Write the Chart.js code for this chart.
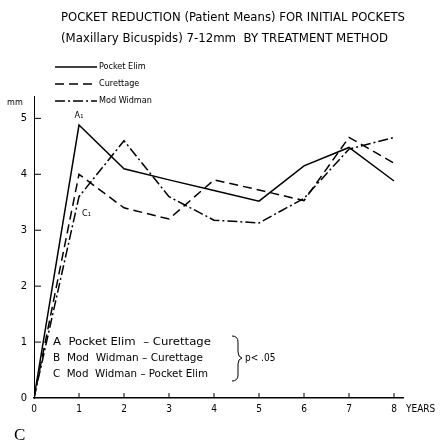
<!DOCTYPE html>
<html><head><meta charset="utf-8">
<script src="https://cdn.jsdelivr.net/npm/chart.js@4/dist/chart.umd.min.js"></script>
<style>html,body{margin:0;padding:0;background:#fff;}</style>
</head><body>
<canvas id="c" width="443" height="442"></canvas>
<script>
// ---- data ----
const years = [0, 1, 2, 3, 4, 5, 6, 7, 8];
const pocketElim = [0, 4.88, 4.1, 3.9, 3.71, 3.52, 4.15, 4.48, 3.88];
const curettage  = [0, 4.0, 3.4, 3.2, 3.9, 3.72, 3.53, 4.66, 4.2];
const modWidman  = [0, 3.6, 4.6, 3.6, 3.18, 3.13, 3.57, 4.45, 4.66];
const seriesNames = ['Pocket Elim', 'Curettage', 'Mod Widman'];
const xTicks = [0, 1, 2, 3, 4, 5, 6, 7, 8];
const yTicks = [0, 1, 2, 3, 4, 5];
const titleLines = ['POCKET REDUCTION (Patient Means) FOR INITIAL POCKETS', '(Maxillary Bicuspids) 7-12mm  BY TREATMENT METHOD'];
const statLines = ['A  Pocket Elim  \u2013 Curettage', 'B  Mod  Widman \u2013 Curettage', 'C  Mod  Widman \u2013 Pocket Elim'];

const FAM = '"Liberation Sans Narrow", "DejaVu Sans Condensed", "Liberation Sans", Arial, sans-serif';
const dashes = [[], [9, 5], [10, 3, 2, 3]];
const seriesData = [pocketElim, curettage, modWidman];

function fitText(ctx, text, x, y, width, font) {
  ctx.save();
  ctx.font = font;
  const w = ctx.measureText(text).width;
  ctx.translate(x, y);
  ctx.scale(width / w, 1);
  ctx.textAlign = 'left';
  ctx.fillText(text, 0, 0);
  ctx.restore();
}

const decor = {
  id: 'decor',
  afterDraw(chart) {
    const ctx = chart.ctx;
    const xs = chart.scales.x, ys = chart.scales.y;
    ctx.save();
    ctx.fillStyle = '#000';
    ctx.strokeStyle = '#000';
    ctx.textBaseline = 'middle';
    // title
    fitText(ctx, titleLines[0], 61, 18, 344, '12px ' + FAM);
    fitText(ctx, titleLines[1], 61, 39, 327, '12px ' + FAM);
    // legend
    const ly = [67, 84, 101];
    chart.data.datasets.forEach((ds, i) => {
      ctx.save();
      ctx.lineWidth = 1.4;
      ctx.setLineDash(ds.borderDash || []);
      ctx.beginPath();
      ctx.moveTo(55, ly[i]); ctx.lineTo(97, ly[i]);
      ctx.stroke();
      ctx.restore();
      ctx.font = '9px ' + FAM;
      ctx.textAlign = 'left';
      ctx.fillText(ds.label, 99, ly[i]);
    });
    // unit
    ctx.font = '9px ' + FAM;
    ctx.textAlign = 'center';
    ctx.fillText('mm', 15, 103);
    // inward ticks
    ctx.lineWidth = 1;
    ctx.setLineDash([]);
    yTicks.forEach(v => {
      const p = ys.getPixelForValue(v);
      if (v === 0) return;
      ctx.beginPath(); ctx.moveTo(xs.left, p); ctx.lineTo(xs.left + 7, p); ctx.stroke();
    });
    xTicks.forEach(v => {
      if (v === 0) return;
      const p = xs.getPixelForValue(v);
      ctx.beginPath(); ctx.moveTo(p, ys.bottom); ctx.lineTo(p, ys.bottom - 5); ctx.stroke();
    });
    // YEARS
    ctx.font = '10px ' + FAM;
    ctx.textAlign = 'left';
    ctx.fillText('YEARS', 406, 409);
    // significance markers
    ctx.font = '9px ' + FAM;
    ctx.textAlign = 'center';
    ctx.fillText('A\u2081', xs.getPixelForValue(1), ys.getPixelForValue(4.88) - 9);
    ctx.textAlign = 'left';
    ctx.fillText('C\u2081', xs.getPixelForValue(1) + 3, ys.getPixelForValue(3.3));
    // stats block
    const sy = [342, 358, 374];
    const sw = [158, 150, 155];
    statLines.forEach((t, i) => fitText(ctx, t, 53, sy[i], sw[i], '10px ' + FAM));
    // bracket
    ctx.lineWidth = 1;
    ctx.beginPath();
    ctx.moveTo(232, 336);
    ctx.quadraticCurveTo(238, 336, 238, 342);
    ctx.lineTo(238, 352);
    ctx.quadraticCurveTo(238, 357, 242, 358);
    ctx.quadraticCurveTo(238, 359, 238, 364);
    ctx.lineTo(238, 375);
    ctx.quadraticCurveTo(238, 381, 232, 381);
    ctx.stroke();
    ctx.font = '10px ' + FAM;
    ctx.fillText('p< .05', 245, 358);
    // panel letter
    ctx.font = '17px "Liberation Serif", "DejaVu Serif", serif';
    ctx.fillText('C', 14, 436);
    ctx.restore();
  }
};

new Chart(document.getElementById('c'), {
  type: 'line',
  data: {
    datasets: seriesData.map((arr, i) => ({
      label: seriesNames[i],
      data: years.map((x, j) => ({ x: x, y: arr[j] })),
      borderColor: '#000',
      borderWidth: 1.5,
      borderDash: dashes[i],
      pointRadius: 0,
      tension: 0,
      fill: false
    }))
  },
  options: {
    responsive: false,
    animation: false,
    devicePixelRatio: 1,
    layout: { padding: { top: 96, right: 40, bottom: 0, left: 0 } },
    plugins: { legend: { display: false }, title: { display: false }, tooltip: { enabled: false } },
    scales: {
      x: {
        type: 'linear', min: 0, max: 8.2,
        afterBuildTicks: s => { s.ticks = xTicks.map(v => ({ value: v })); },
        afterFit: s => { s.height = 44; },
        grid: { display: false, drawTicks: false },
        border: { display: true, color: '#000', width: 1.5 },
        ticks: { color: '#000', font: { size: 10, family: FAM }, padding: 5, maxRotation: 0, autoSkip: false, callback: v => String(v) }
      },
      y: {
        type: 'linear', min: 0, max: 5.4,
        afterBuildTicks: s => { s.ticks = yTicks.map(v => ({ value: v })); },
        afterFit: s => { s.width = 34; },
        grid: { display: false, drawTicks: false },
        border: { display: true, color: '#000', width: 1 },
        ticks: { color: '#000', font: { size: 11, family: FAM }, padding: 7, autoSkip: false, callback: v => String(v) }
      }
    }
  },
  plugins: [decor]
});
</script>
</body></html>
